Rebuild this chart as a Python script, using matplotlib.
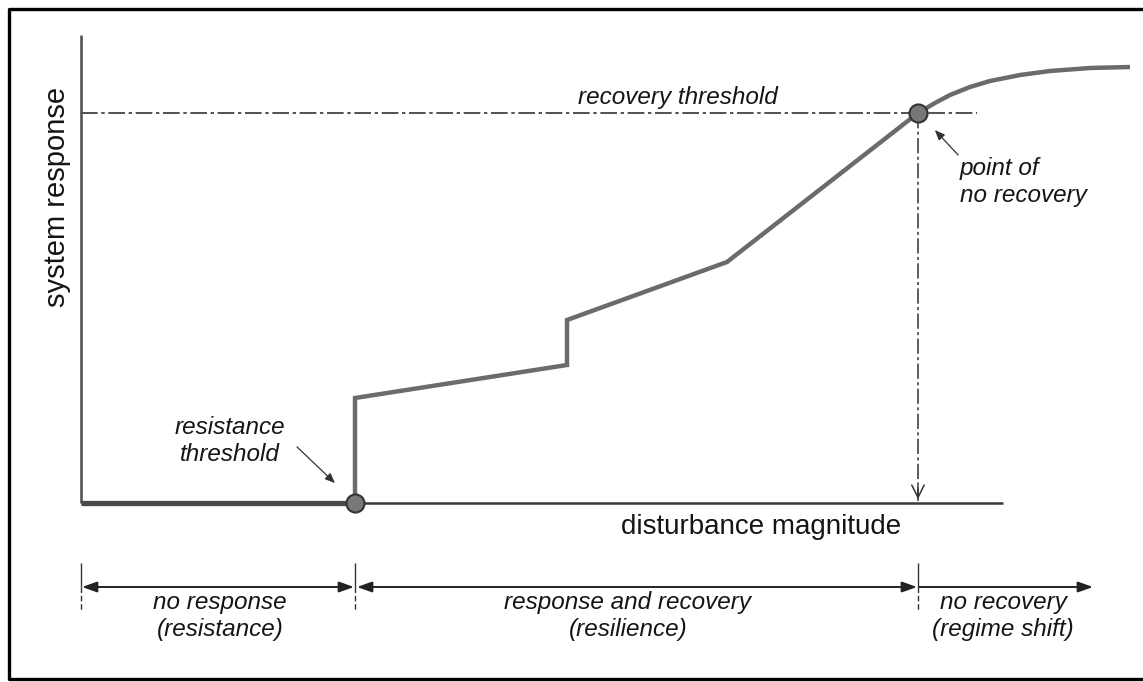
import matplotlib
matplotlib.use("Agg")
import matplotlib.pyplot as plt
from matplotlib.lines import Line2D

plt.rcParams['font.family'] = ['Liberation Sans', 'DejaVu Sans']

# ---- data (arbitrary units: disturbance magnitude vs system response) ----
disturbance = [2.74, 2.74, 4.86, 4.86, 6.46, 8.37, 8.54, 8.69, 8.89, 9.09, 9.39, 9.69, 10.09, 10.49]
response    = [0.00, 1.05, 1.38, 1.83, 2.41, 3.90, 4.00, 4.08, 4.16, 4.22, 4.28, 4.32, 4.35, 4.36]
resistance_threshold_x = 2.74
recovery_threshold_y = 3.90
no_recovery_x = 8.37
x_axis_end = 9.22
y_axis_top = 4.68
region_bounds = [0.0, 2.74, 8.37, 10.12]
region_labels = ["no response\n(resistance)",
                 "response and recovery\n(resilience)",
                 "no recovery\n(regime shift)"]
region_label_x = [1.39, 5.47, 9.22]

W, H = 1143, 682
fig = plt.figure(figsize=(W / 100, H / 100), dpi=100)
ax = fig.add_axes([0, 0, 1, 1])
ax.set_xlim(-0.81, (W - 81) / 100)
ax.set_ylim(-(H - 503) / 100, 503 / 100)
ax.axis('off')

axis_col = '#3a3a3a'
curve_col = '#6b6b6b'
txt_col = '#151515'

# axes
ax.plot([0, 0], [0, y_axis_top], color='#555555', lw=1.9, solid_capstyle='butt', zorder=3)
ax.plot([0, x_axis_end], [0, 0], color=axis_col, lw=1.8, solid_capstyle='butt', zorder=3)
ax.plot([0, resistance_threshold_x], [0, 0], color='#4a4a4a', lw=3.8, solid_capstyle='butt', zorder=4)

# recovery threshold dash-dot line
ax.plot([0, 8.96], [recovery_threshold_y, recovery_threshold_y], color='#333333', lw=1.2,
        dashes=(10, 2.2, 2, 2.2), zorder=2)
# vertical drop line
ax.plot([no_recovery_x, no_recovery_x], [recovery_threshold_y, 0.02], color='#333333', lw=1.1,
        dashes=(10, 2.2, 2, 2.2), zorder=2)
ax.annotate('', xy=(no_recovery_x, 0.01), xytext=(no_recovery_x, 0.2),
            arrowprops=dict(arrowstyle='->,head_length=0.9,head_width=0.45', color='#333333', lw=1.1),
            zorder=3)

# response curve
ax.plot(disturbance, response, color=curve_col, lw=3.2, solid_joinstyle='miter',
        solid_capstyle='butt', zorder=5)

# threshold points
ax.plot([resistance_threshold_x, no_recovery_x], [0, recovery_threshold_y], 'o', ms=13,
        mfc='#787878', mec='#333333', mew=1.5, zorder=6)

# axis labels
ax.text(-0.24, 3.06, 'system response', rotation=90, ha='center', va='center',
        fontsize=21, color=txt_col)
ax.text(6.80, -0.24, 'disturbance magnitude', ha='center', va='center',
        fontsize=20, color=txt_col)

# annotations
ax.text(5.97, 4.06, 'recovery threshold', ha='center', va='center', fontsize=17.5,
        style='italic', color=txt_col)
ax.text(1.49, 0.62, 'resistance\nthreshold', ha='center', va='center', fontsize=17.5,
        style='italic', color=txt_col, linespacing=1.2)
ax.annotate('', xy=(2.56, 0.18), xytext=(2.14, 0.58),
            arrowprops=dict(arrowstyle='-|>,head_length=0.6,head_width=0.25', color='#333333', lw=0.9))
ax.text(8.79, 3.21, 'point of\nno recovery', ha='left', va='center', fontsize=17.5,
        style='italic', color=txt_col, linespacing=1.2)
ax.annotate('', xy=(8.52, 3.75), xytext=(8.79, 3.46),
            arrowprops=dict(arrowstyle='-|>,head_length=0.6,head_width=0.25', color='#333333', lw=0.9))

# bottom region arrows
ya = -0.84
for xb in region_bounds[:3]:
    ax.plot([xb, xb], [-0.60, ya], color='#333333', lw=1.0, solid_capstyle='butt')
    ax.plot([xb, xb], [ya, -1.09], color='#333333', lw=1.0, dashes=(4, 2))
ax.annotate('', xy=(region_bounds[0] + 0.01, ya), xytext=(region_bounds[1] - 0.01, ya),
            arrowprops=dict(arrowstyle='<|-|>,head_length=0.9,head_width=0.32', color='#222222',
                            lw=1.4, shrinkA=0, shrinkB=0))
ax.annotate('', xy=(region_bounds[1] + 0.02, ya), xytext=(region_bounds[2] - 0.01, ya),
            arrowprops=dict(arrowstyle='<|-|>,head_length=0.9,head_width=0.32', color='#222222',
                            lw=1.4, shrinkA=0, shrinkB=0))
ax.annotate('', xy=(region_bounds[3], ya), xytext=(region_bounds[2] + 0.01, ya),
            arrowprops=dict(arrowstyle='-|>,head_length=0.9,head_width=0.32', color='#222222',
                            lw=1.4, shrinkA=0, shrinkB=0))
for lbl, xl in zip(region_labels, region_label_x):
    ax.text(xl, -1.13, lbl, ha='center', va='center', fontsize=17.5, style='italic',
            color=txt_col, linespacing=1.2)

# outer frame (right edge lies outside the image)
tr = fig.transFigure
fx0, fx1 = 8.5 / W, 1.01
fy0, fy1 = 1 - 679 / H, 1 - 8.5 / H
fig.add_artist(Line2D([fx1, fx0, fx0, fx1], [fy0, fy0, fy1, fy1],
                      transform=tr, color='black', lw=2.4))

fig.savefig('out.png', dpi=100)
